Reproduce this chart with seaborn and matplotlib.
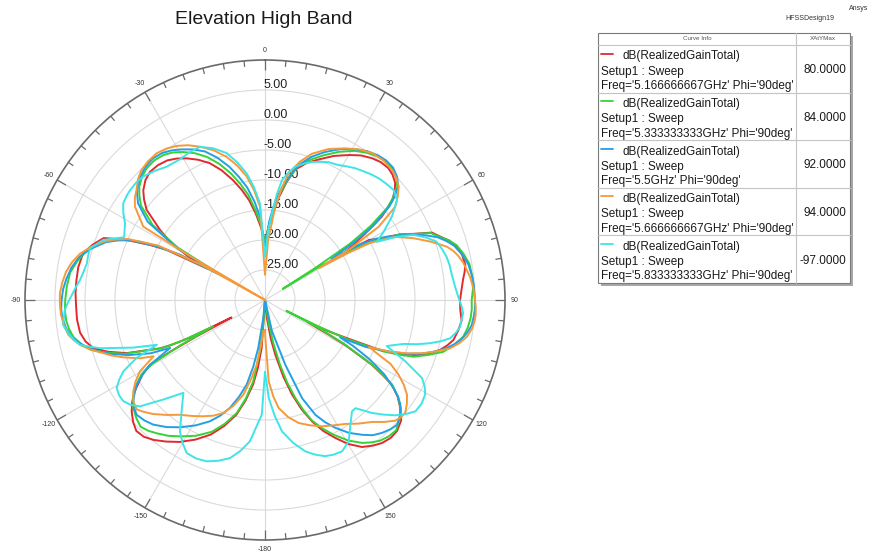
import numpy as np
import pandas as pd
import matplotlib
matplotlib.use("Agg")
import matplotlib.pyplot as plt
from matplotlib import transforms
from matplotlib.patches import Rectangle
import seaborn as sns

# Elevation cut (Phi = 90deg): (theta in degrees, realized gain in dB) per frequency
pattern_f1 = [(-180, -32), (-176, -22), (-174, -18.6), (-172, -15.8), (-169, -12.9), (-166, -10.3), (-162, -7.9),
              (-158, -5.8), (-153.5, -4.0), (-149, -2.4), (-145, -1.2), (-141.5, -0.2), (-138.5, 0.45),
              (-135.5, 0.6), (-132.8, -0.05), (-130, -1.0), (-127.5, -2.1), (-125, -3.5), (-121, -6.3),
              (-119.4, -8.0), (-118.6, -12.0), (-118, -17.0), (-117.5, -23.7), (-116.6, -16.0), (-115.6, -12.5),
              (-114.7, -10.7), (-111, -5.3), (-108.3, -2.5), (-105.7, -0.3), (-103, 0.7), (-100, 1.3), (-96, 1.5),
              (-92, 1.5), (-88, 1.6), (-84, 1.6), (-80, 1.6), (-75.6, 1.3), (-72.3, 0.2), (-69, -1.2),
              (-66.7, -4.5), (-64.4, -8.8), (-63, -11.6), (-61.5, -19.0), (-60.3, -15.0), (-58.5, -11.5),
              (-56.3, -9.0), (-52.7, -5.2), (-50.3, -3.8), (-48, -2.7), (-45, -1.8), (-42, -1.3), (-38.5, -1.3),
              (-35, -1.6), (-32, -2.2), (-29, -3.0), (-25.5, -4.1), (-22, -5.4), (-18.5, -7.2), (-15, -9.3),
              (-12, -11.2), (-9, -13.2), (-6, -15.6), (-3, -18.0), (0, -20.2), (3, -17.5), (7.6, -12.8),
              (10.3, -10.1), (13, -7.7), (17, -6.1), (21, -4.9), (25.5, -3.4), (30, -2.1), (33.5, -1.1),
              (37, -0.4), (40, 0.0), (43, 0.1), (45.5, -0.2), (48, -0.8), (50, -1.8), (52, -3.1), (54.5, -6.1),
              (56.4, -9.9), (58, -12.5), (59, -14.4), (60, -10.0), (62, -8.2), (64.3, -4.7), (66, -2.9),
              (68, 0.0), (70, 1.0), (72.2, 2.3), (74.5, 3.2), (77, 3.7), (80, 3.9), (82, 3.6), (84, 3.2),
              (87, 2.8), (90, 2.5), (93, 2.6), (96, 2.95), (99, 2.6), (102, 2.1), (104, 1.3), (106, 0.3),
              (108, -1.3), (110, -3.1), (111.8, -5.8), (113.5, -9.1), (115, -15.0), (116.2, -18.0),
              (117.5, -22.0), (118.5, -18.0), (119.3, -14.7), (121.2, -9.2), (122.5, -6.8), (123.7, -4.6),
              (126, -2.7), (128.6, -1.15), (131.5, 0.3), (134.8, 1.0), (137.7, 1.1), (140.7, 0.8), (143.5, 0.2),
              (146.6, -0.65), (150, -2.3), (153, -4.2), (156, -6.1), (158.8, -8.3), (161.5, -10.8), (164, -13.6),
              (166.5, -16.8), (169.3, -20.7), (171.5, -23.5), (174, -27.0), (180, -32)]

pattern_f2 = [(-180, -32), (-176, -26), (-174, -21), (-171.8, -16.3), (-169, -13.3), (-166, -10.6), (-162, -8.3),
              (-158, -6.3), (-153, -4.6), (-148, -3.2), (-144.5, -2.2), (-141, -1.4), (-138.3, -0.8),
              (-135.5, -0.4), (-132.5, -0.9), (-129.4, -1.6), (-127.2, -2.4), (-125, -3.3), (-123, -4.6),
              (-121, -6.0), (-119.5, -8.5), (-118.2, -14.0), (-117, -20.3), (-116.2, -14.5), (-115, -11.0),
              (-111, -5.0), (-108.5, -2.3), (-106, 0.2), (-103.5, 1.5), (-101, 2.5), (-98.5, 3.0), (-96, 3.3),
              (-93, 3.4), (-90, 3.3), (-86, 3.1), (-82, 2.8), (-78.5, 2.0), (-75, 1.0), (-72, -0.5), (-69, -2.2),
              (-67, -4.4), (-65, -7.0), (-63.5, -10.0), (-62, -14.0), (-60.5, -22.0), (-59, -13.0),
              (-56.3, -7.5), (-52.7, -4.0), (-50.3, -2.8), (-48, -1.8), (-45, -1.0), (-42, -0.5), (-38.5, -0.3),
              (-35, -0.5), (-32, -1.0), (-29, -1.8), (-25.5, -2.9), (-22, -4.3), (-18.5, -6.1), (-15, -8.2),
              (-12, -10.2), (-9, -12.3), (-6, -15.0), (-3, -17.5), (0, -20.5), (3, -17.5), (5.5, -14.6),
              (8, -12.0), (11, -9.3), (14, -7.0), (18, -5.4), (22, -4.0), (26.5, -2.4), (31, -1.0), (34.5, -0.2),
              (38, 0.4), (41, 0.6), (44, 0.5), (47, -0.1), (49.5, -1.0), (51.3, -2.6), (53, -4.5), (55, -8.5),
              (56.5, -13.0), (57.5, -20.0), (58, -26.5), (58.5, -20.0), (60, -13.0), (62, -8.5), (64, -5.0),
              (66, -3.0), (68, -0.2), (70, 0.9), (72, 2.2), (74, 3.2), (77, 4.0), (80, 4.6), (84, 4.8),
              (87, 4.7), (90, 4.45), (92.5, 4.5), (95, 4.4), (97.8, 4.1), (100.5, 3.6), (103.3, 2.4),
              (106.2, 0.95), (108.5, -1.2), (110.9, -3.5), (112.2, -5.9), (113.5, -8.5), (115.5, -15.0),
              (116.3, -20.0), (116.8, -26.0), (117.5, -20.0), (119, -15.0), (121.2, -9.0), (122.5, -6.6),
              (123.7, -4.5), (126, -2.6), (128.6, -1.0), (131.7, 0.0), (134.8, 0.8), (137.7, 0.7), (140.7, 0.3),
              (143.3, -0.4), (145.8, -1.2), (149.4, -2.8), (153, -4.8), (156, -6.6), (158.8, -8.5),
              (160.8, -10.6), (162.8, -12.9), (165, -15.8), (167, -19.0), (169, -22.5), (171, -26.0), (180, -32)]

pattern_f3 = [(-180, -32), (-174.6, -27.0), (-172, -21.9), (-170, -18.7), (-167.8, -15.6), (-165, -13.3),
              (-162, -11.1), (-159, -9.4), (-155.6, -7.8), (-151, -6.1), (-146.3, -4.5), (-142.2, -3.2),
              (-138.1, -2.1), (-135, -1.6), (-131.8, -1.3), (-129.7, -1.7), (-127.6, -2.3), (-125.5, -3.3),
              (-123.4, -4.4), (-121.4, -6.1), (-119.4, -8.0), (-118, -10.5), (-116.8, -12.3), (-115, -9.0),
              (-112, -5.5), (-109.5, -3.0), (-107, -0.8), (-104, 1.2), (-101, 2.8), (-98, 3.5), (-95, 3.9),
              (-92.5, 4.0), (-90, 3.9), (-87, 3.7), (-84, 3.3), (-80.5, 2.7), (-77, 1.8), (-73.5, 0.2),
              (-70, -1.8), (-68, -3.5), (-66, -5.5), (-63.5, -10.0), (-62, -14.0), (-60.8, -21.0),
              (-59.5, -13.0), (-56.3, -6.5), (-52.7, -3.4), (-50.3, -2.3), (-48, -1.5), (-45, -0.7), (-42, -0.2),
              (-38.5, 0.1), (-35, -0.1), (-32, -0.6), (-29, -1.3), (-25.5, -2.2), (-22, -3.3), (-18.5, -5.0),
              (-15, -7.0), (-12, -9.0), (-9, -11.0), (-6, -13.6), (-3, -16.5), (0, -21.7), (3, -17.0),
              (5, -14.6), (7, -12.5), (8.8, -10.9), (10.6, -9.5), (12.3, -8.1), (14, -6.8), (18, -4.9),
              (22, -3.4), (26.5, -1.9), (31, -0.7), (34.5, 0.1), (38, 0.6), (41, 0.8), (44, 0.7), (47, 0.1),
              (49.5, -0.8), (51.3, -2.2), (53, -4.0), (55.5, -8.0), (57, -12.0), (58.3, -17.0), (59.5, -12.0),
              (61, -9.0), (63, -6.5), (66, -3.2), (68, -1.2), (70, 0.6), (72, 1.8), (74, 2.8), (77, 3.7),
              (80, 4.4), (83, 4.7), (86, 4.9), (89, 4.95), (92, 5.05), (94.5, 4.9), (97, 4.7), (99, 4.2),
              (101, 3.5), (103, 2.5), (105, 1.2), (107, -0.5), (109, -2.5), (110.8, -4.8), (112.5, -7.5),
              (115, -11.5), (116.5, -16.0), (117.5, -13.5), (119.5, -10.0), (122, -6.5), (124.5, -4.0),
              (126, -2.6), (127.7, -1.5), (130.5, -0.4), (133.4, 0.3), (136, 0.0), (138.7, -0.5), (141.5, -1.2),
              (144.2, -2.3), (147.7, -3.8), (151.2, -5.7), (153.8, -7.3), (156.3, -9.1), (159.3, -12.5),
              (162.6, -18.7), (167.4, -24.7), (172, -32), (180, -32)]

pattern_f4 = [(-180, -25.0), (-177, -24.8), (-174.8, -22.2), (-172.7, -19.1), (-170, -16.6), (-167.1, -13.8),
              (-163.4, -11.6), (-159.7, -9.9), (-156, -8.9), (-152, -8.05), (-148, -7.2), (-143.5, -6.2),
              (-139.5, -4.8), (-135.6, -3.4), (-133, -2.6), (-130.5, -1.9), (-127.6, -2.3), (-124.7, -3.3),
              (-122.2, -4.5), (-119.7, -6.0), (-116.8, -9.2), (-115, -7.0), (-112, -4.5), (-110, -2.9),
              (-108, -1.5), (-106, 0.1), (-104, 1.5), (-102, 2.5), (-100, 3.3), (-97, 3.8), (-94, 4.1),
              (-91, 4.2), (-88, 4.2), (-85, 3.9), (-82, 3.5), (-79, 2.8), (-76, 1.8), (-73, 0.3), (-70, -1.5),
              (-68, -3.1), (-66, -5.0), (-63, -10.0), (-61, -18.0), (-60, -32), (-59.6, -15.0), (-58.9, -6.3),
              (-54.3, -3.3), (-51.8, -2.4), (-49.4, -1.8), (-46.5, -0.8), (-43.5, -0.1), (-40, 0.25),
              (-36.4, 0.4), (-33, 0.1), (-29.8, -0.4), (-26.4, -1.2), (-23, -2.25), (-19, -3.6), (-15, -5.3),
              (-11.7, -7.1), (-8.4, -9.2), (-5.7, -11.6), (-3.1, -14.4), (0, -25.8), (3, -20.0), (6.3, -14.35),
              (8.5, -11.1), (10.6, -8.5), (14.2, -6.2), (17.8, -4.4), (22.8, -2.7), (27.9, -1.4), (32, -0.4),
              (36.1, 0.3), (40.2, 0.5), (44.3, 0.3), (47, -0.1), (49.7, -0.8), (52, -1.9), (54.4, -3.3),
              (57.2, -7.45), (59.1, -13.75), (59.5, -19.5), (60.5, -14.0), (61.5, -10.0), (64, -6.0),
              (67.4, -3.2), (70.5, -0.8), (73.6, 1.55), (75.3, 2.4), (77, 3.0), (79.2, 3.6), (81.5, 4.0),
              (83.7, 4.4), (86, 4.7), (88, 4.9), (90, 5.0), (92, 5.15), (94, 5.2), (96, 5.1), (98, 4.8),
              (100.3, 4.2), (102.5, 3.2), (104.6, 1.9), (106.6, -0.1), (108.6, -2.2), (110.5, -4.6),
              (112.5, -7.45), (114.3, -11.0), (115.7, -9.0), (117, -6.5), (119.2, -4.5), (121.4, -2.9),
              (123.7, -1.55), (126.2, -0.7), (128.85, 0.0), (130.8, -0.1), (132.8, -0.4), (135.7, -1.6),
              (138.7, -2.95), (143, -4.2), (147.1, -5.4), (151.4, -6.2), (155.7, -6.9), (160.2, -7.8),
              (164.7, -8.75), (168.8, -10.1), (172.8, -11.85), (175, -13.8), (177.4, -16.4), (179.5, -23.7),
              (180, -25.0)]

pattern_f5 = [(-180, -18.0), (-178.4, -10.9), (-173.9, -6.3), (-170.7, -4.5), (-167.5, -3.0), (-163.8, -2.1),
              (-160.1, -1.4), (-156.5, -1.2), (-152.9, -1.35), (-150, -2.5), (-147.1, -3.9), (-142.4, -7.3),
              (-138.7, -9.4), (-134.4, -6.3), (-130.4, -2.65), (-128, -1.6), (-125.6, -1.0), (-123.2, -0.95),
              (-120.7, -1.25), (-118.7, -2.3), (-116.7, -3.6), (-114.3, -6.5), (-112.5, -10.5), (-109.9, -6.7),
              (-106.3, -1.35), (-103.7, 1.7), (-101.6, 2.6), (-99.6, 3.25), (-97, 3.9), (-92.9, 3.4),
              (-90.7, 2.85), (-88.5, 2.2), (-86.1, 1.6), (-83.8, 1.0), (-81.1, 0.6), (-78.4, 0.3), (-75.9, 0.4),
              (-73.5, 0.4), (-69.6, -1.25), (-66, -4.3), (-61.3, -3.4), (-58.5, -2.3), (-55.7, -1.4),
              (-53.2, -1.15), (-50.8, -1.0), (-47.7, -0.95), (-44.6, -1.1), (-40.5, -1.7), (-36.4, -2.4),
              (-31.1, -2.6), (-27, -2.35), (-23, -2.25), (-18.8, -3.3), (-14.6, -4.7), (-11.4, -6.6),
              (-8.2, -8.7), (-5.6, -11.1), (-3, -13.9), (0, -22.8), (2.5, -18.5), (4.6, -15.5), (6.3, -12.4),
              (8.1, -9.8), (10.4, -8.4), (12.8, -7.2), (15.8, -6.4), (18.8, -5.7), (21.8, -5.2), (24.8, -4.7),
              (28.1, -4.45), (31.4, -3.9), (34.3, -3.4), (37.3, -3.0), (40.1, -2.6), (43, -2.25), (46.2, -2.0),
              (49.5, -1.8), (52.9, -2.4), (56.7, -4.7), (60.1, -7.2), (62.5, -9.0), (64.4, -5.6), (66.3, -3.0),
              (68.8, -1.2), (71.25, 0.2), (73.9, 0.7), (76.6, 1.1), (79.2, 1.3), (81.9, 1.4), (85.5, 1.7),
              (89, 2.2), (91.4, 2.7), (93.8, 3.1), (97.8, 2.8), (99.7, 2.3), (101.7, 1.5), (103.2, 0.1),
              (104.7, -1.6), (106.2, -3.6), (107.6, -5.8), (110.7, -8.3), (113.6, -4.5), (116.4, -0.8),
              (118.5, 0.3), (120.6, 1.0), (123.5, 1.3), (126.5, 1.2), (129, 0.2), (131.5, -1.0), (134, -2.5),
              (136.6, -4.1), (140.1, -6.5), (142, -6.45), (145.6, -4.8), (149.4, -2.6), (153, -1.7),
              (156, -1.8), (158.9, -2.1), (162, -2.9), (165.1, -3.9), (168.8, -5.7), (172.6, -7.9),
              (175.2, -10.6), (177.8, -13.65), (180, -18.0)]

freq_labels = ["5.166666667GHz", "5.333333333GHz", "5.5GHz", "5.666666667GHz", "5.833333333GHz"]
x_at_ymax = [80.0, 84.0, 92.0, 94.0, -97.0]
curve_colors = ["#e02a2e", "#36d236", "#239fe6", "#f49a3a", "#3fe4e6"]

r_ticks = [-25, -20, -15, -10, -5, 0, 5]
r_tick_labels = ["-25.00", "-20.00", "-15.00", "-10.00", "-5.00", "0.00", "5.00"]
angle_ticks = [0, 30, 60, 90, 120, 150, 180, 210, 240, 270, 300, 330]
angle_labels = ["0", "30", "60", "90", "120", "150", "-180", "-150", "-120", "-90", "-60", "-30"]

R_MIN, R_MAX = -30, 10

sns.set_theme(style="white")
plt.rcParams["font.family"] = ["Liberation Sans", "DejaVu Sans"]

patterns = [pattern_f1, pattern_f2, pattern_f3, pattern_f4, pattern_f5]
frames = []
for lab, pat in zip(freq_labels, patterns):
    th, g = np.array(sorted(pat)).T
    frames.append(pd.DataFrame({
        "theta": np.deg2rad(th),
        "gain": np.clip(g, R_MIN, None),   # below the plot floor -> centre
        "curve": lab,
    }))
df = pd.concat(frames, ignore_index=True)
palette = dict(zip(freq_labels, curve_colors))

W, H = 879, 554
fig = plt.figure(figsize=(W / 100, H / 100), dpi=100)
fig.patch.set_facecolor("white")

cx, cy, rad = 265, 300, 240
ax = fig.add_axes([(cx - rad) / W, (H - cy - rad) / H, 2 * rad / W, 2 * rad / H], projection="polar")
ax.set_theta_zero_location("N")
ax.set_theta_direction(-1)
ax.set_ylim(R_MIN, R_MAX)
ax.set_xticks(np.deg2rad(angle_ticks))
ax.set_xticklabels([])
ax.set_yticks(r_ticks)
ax.set_yticklabels([])
ax.tick_params(length=0)
ax.grid(True, color="#dadada", lw=0.8)
ax.spines["polar"].set_edgecolor("#6a6a6a")
ax.spines["polar"].set_linewidth(1.2)

sns.lineplot(data=df, x="theta", y="gain", hue="curve", hue_order=freq_labels, palette=palette,
             sort=False, estimator=None, legend=False, lw=1.4, zorder=3, ax=ax)
ax.set_xlabel("")
ax.set_ylabel("")

# tick marks on the outer ring, every 5 degrees, longer at 30
for deg in range(0, 360, 5):
    ln = 1.7 if deg % 30 == 0 else 1.0
    ax.plot([np.deg2rad(deg)] * 2, [R_MAX, R_MAX - ln], color="#6a6a6a", lw=0.9,
            solid_capstyle="butt", clip_on=False, zorder=4)

for a, lab in zip(angle_ticks, angle_labels):
    ax.text(np.deg2rad(a), 11.6, lab, ha="center", va="center", fontsize=5, color="#333333",
            clip_on=False)

off = transforms.offset_copy(ax.transData, fig=fig, x=-1, y=5, units="dots")
for r, lab in zip(r_ticks, r_tick_labels):
    ax.text(0, r, lab, transform=off, ha="left", va="center", fontsize=9, color="#222222", zorder=2.5)

# overlay in pixel coordinates for title and the curve-info table
ov = fig.add_axes([0, 0, 1, 1])
ov.set_xlim(0, W)
ov.set_ylim(H, 0)
ov.axis("off")
ov.patch.set_alpha(0)

ov.text(264, 20, "Elevation High Band", fontsize=14, ha="center", va="center", color="#1a1a1a")
ov.text(859, 9, "Ansys", fontsize=5, ha="center", va="center", color="#333333")
ov.text(810, 18, "HFSSDesign19", fontsize=5, ha="center", va="center", color="#333333")

x0, y0, x1, y1 = 598, 33, 850, 283
ov.add_patch(Rectangle((x0 + 3, y0 + 3), x1 - x0, y1 - y0, facecolor="#a8a8a8", edgecolor="none"))
ov.add_patch(Rectangle((x0, y0), x1 - x0, y1 - y0, facecolor="white", edgecolor="#7a7a7a", lw=0.8))
col_x = 796
head_y = 45
ov.plot([x0, x1], [head_y, head_y], color="#c4c4c4", lw=0.8)
ov.plot([col_x, col_x], [y0, y1], color="#c4c4c4", lw=0.8)
ov.text((x0 + col_x) / 2, 39, "Curve Info", fontsize=4.5, ha="center", va="center", color="#555555")
ov.text((col_x + x1) / 2, 39, "XAtYMax", fontsize=4.5, ha="center", va="center", color="#555555")

row_h = (y1 - head_y) / len(freq_labels)
for i, (lab, val, col) in enumerate(zip(freq_labels, x_at_ymax, curve_colors)):
    top = head_y + i * row_h
    if i > 0:
        ov.plot([x0, x1], [top, top], color="#c4c4c4", lw=0.8)
    ov.plot([601.5, 613.5], [top + 8.5, top + 8.5], color=col, lw=1.3)
    ov.text(623, top + 11.5, "dB(RealizedGainTotal)", fontsize=8.5, ha="left", va="center", color="#1a1a1a")
    ov.text(601, top + 26.5, "Setup1 : Sweep", fontsize=8.5, ha="left", va="center", color="#1a1a1a")
    ov.text(601, top + 41, f"Freq='{lab}' Phi='90deg'", fontsize=8.5, ha="left", va="center",
            color="#1a1a1a")
    ov.text(846, top + row_h / 2 + 1.5, f"{val:.4f}", fontsize=8.5, ha="right", va="center", color="#1a1a1a")

fig.savefig("out.png", dpi=100, facecolor="white")
